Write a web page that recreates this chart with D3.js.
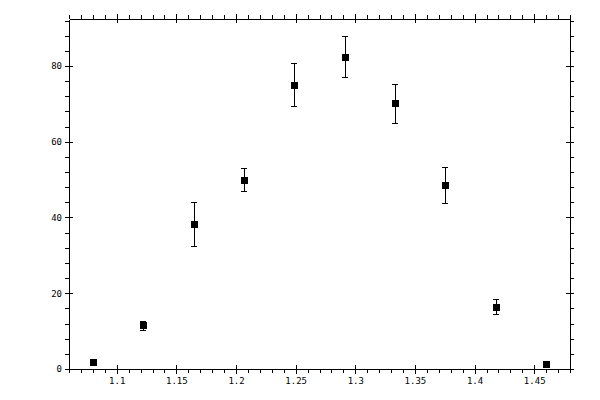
<!DOCTYPE html>
<html>
<head>
<meta charset="utf-8">
<script src="https://cdn.jsdelivr.net/npm/d3@7"></script>
<style>
  body { margin: 0; background: #fff; }
  .axis text { font-family: "DejaVu Sans Mono", monospace; font-size: 9px; fill: #000; }
  .axis path, .axis line { stroke: #000; shape-rendering: crispEdges; }
</style>
</head>
<body>
<div id="container"></div>
<script>
// measured points (bin centres, value, symmetric error)
const xValues = [1.08, 1.1222, 1.1644, 1.2067, 1.2489, 1.2911, 1.3333, 1.3756, 1.4178, 1.46];
const yValues = [1.8, 11.5, 38.3, 50.0, 75.1, 82.5, 70.1, 48.6, 16.4, 1.3];
const yErrors = [0.4, 1.3, 5.8, 3.0, 5.6, 5.5, 5.1, 4.75, 2.0, 0.3];

const xMajorTicks = [1.1, 1.15, 1.2, 1.25, 1.3, 1.35, 1.4, 1.45];
const yMajorTicks = [0, 20, 40, 60, 80];

const WIDTH = 600, HEIGHT = 400;
const LEFT = 69, RIGHT = 570, TOP = 19, BOTTOM = 369;

const points = xValues.map((x, i) => ({x: x, y: yValues[i], err: yErrors[i]}));

const svg = d3.select("#container").append("svg")
	.attr("width", WIDTH)
	.attr("height", HEIGHT);

const xScale = d3.scaleLinear().domain([1.06, 1.48]).range([LEFT, RIGHT]);
const yScale = d3.scaleLinear().domain([0, 92.4]).range([BOTTOM, TOP]);

const xMinor = d3.range(106, 149, 1).map(d => d / 100);
const yMinor = d3.range(0, 93, 4);

const fmtX = d => String(+d.toFixed(2));

// outward ticks (minor + major), then inward major ticks
function drawAxis(axisFn, scale, minor, major, transform, labels, fmt) {
	svg.append("g")
		.attr("class", "axis")
		.attr("transform", transform)
		.call(axisFn(scale).tickValues(minor).tickSizeInner(4).tickSizeOuter(0).tickFormat(""));
	const g = svg.append("g")
		.attr("class", "axis")
		.attr("transform", transform)
		.call(axisFn(scale).tickValues(major).tickSizeInner(-4).tickSizeOuter(0).tickPadding(8)
			.tickFormat(labels ? fmt : ""));
	g.select(".domain").remove();
	// major ticks cross the frame
	g.selectAll(".tick line").each(function() {
		const l = d3.select(this);
		if (l.attr("y2") !== null && +l.attr("y2") !== 0) {
			const v = +l.attr("y2");
			l.attr("y1", -v * 1.2);
		} else if (l.attr("x2") !== null) {
			const v = +l.attr("x2");
			l.attr("x1", -v);
		}
	});
	return g;
}

const gb = drawAxis(d3.axisBottom, xScale, xMinor, xMajorTicks, `translate(0,${BOTTOM})`, true, fmtX);
gb.selectAll("text").attr("dy", "0.71em").attr("y", 9);
drawAxis(d3.axisTop, xScale, xMinor, xMajorTicks, `translate(0,${TOP})`, false);
const gl = drawAxis(d3.axisLeft, yScale, yMinor, yMajorTicks, `translate(${LEFT},0)`, true, d => d);
gl.selectAll("text").attr("x", -7);
drawAxis(d3.axisRight, yScale, yMinor, yMajorTicks, `translate(${RIGHT},0)`, false);

// error bars
const bars = svg.append("g")
	.attr("stroke", "#000")
	.attr("stroke-width", 1)
	.attr("shape-rendering", "crispEdges");

bars.selectAll("line.err").data(points).enter().append("line")
	.attr("class", "err")
	.attr("x1", d => Math.round(xScale(d.x)) + 0.5)
	.attr("x2", d => Math.round(xScale(d.x)) + 0.5)
	.attr("y1", d => yScale(d.y + d.err))
	.attr("y2", d => yScale(d.y - d.err));

bars.selectAll("line.capTop").data(points.filter(d => d.err > 1)).enter().append("line")
	.attr("class", "capTop")
	.attr("x1", d => xScale(d.x) - 3)
	.attr("x2", d => xScale(d.x) + 3)
	.attr("y1", d => Math.round(yScale(d.y + d.err)) + 0.5)
	.attr("y2", d => Math.round(yScale(d.y + d.err)) + 0.5);

bars.selectAll("line.capBot").data(points.filter(d => d.err > 1)).enter().append("line")
	.attr("class", "capBot")
	.attr("x1", d => xScale(d.x) - 3)
	.attr("x2", d => xScale(d.x) + 3)
	.attr("y1", d => Math.round(yScale(d.y - d.err)) + 0.5)
	.attr("y2", d => Math.round(yScale(d.y - d.err)) + 0.5);

// square markers
svg.selectAll("rect.pt").data(points).enter().append("rect")
	.attr("class", "pt")
	.attr("x", d => Math.round(xScale(d.x)) - 3)
	.attr("y", d => Math.round(yScale(d.y)) - 3)
	.attr("width", 7)
	.attr("height", 7)
	.attr("fill", "#000");
</script>
</body>
</html>
